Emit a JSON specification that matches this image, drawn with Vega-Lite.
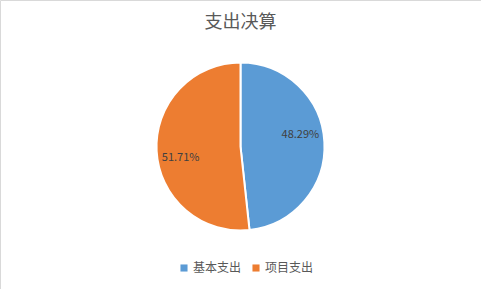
{
  "$schema": "https://vega.github.io/schema/vega-lite/v6.json",
  "width": 481,
  "height": 289,
  "padding": 0,
  "autosize": "none",
  "background": "white",
  "view": {"stroke": "#d9d9d9", "strokeWidth": 1},
  "config": {
    "view": {"stroke": "#d9d9d9", "strokeWidth": 1},
    "font": "Noto Sans CJK SC"
  },
  "title": {
    "text": "支出决算",
    "anchor": "middle",
    "offset": -32,
    "fontSize": 18,
    "fontWeight": "normal",
    "color": "#595959",
    "font": "Noto Sans CJK SC"
  },
  "data": {
    "values": [
      {"category": "基本支出", "value": 48.29, "label": "48.29%", "order": 1},
      {"category": "项目支出", "value": 51.71, "label": "51.71%", "order": 2}
    ]
  },
  "encoding": {
    "theta": {"field": "value", "type": "quantitative", "stack": true},
    "order": {"field": "order", "type": "quantitative"}
  },
  "layer": [
    {
      "mark": {"type": "arc", "radius": 84, "stroke": "white", "strokeWidth": 2, "yOffset": 2},
      "encoding": {
        "color": {
          "field": "category",
          "type": "nominal",
          "scale": {"domain": ["基本支出", "项目支出"], "range": ["#5B9BD5", "#ED7D31"]},
          "legend": {
            "title": null,
            "orient": "none",
            "direction": "horizontal",
            "legendX": 178,
            "legendY": 262,
            "symbolType": "square",
            "symbolSize": 50,
            "symbolStrokeWidth": 0,
            "labelFontSize": 12,
            "labelColor": "#595959",
            "labelFont": "Noto Sans CJK SC",
            "columnPadding": 8,
            "symbolOffset": 0,
            "labelOffset": 3
          }
        }
      }
    },
    {
      "mark": {"type": "text", "radius": 61, "thetaOffset": -0.14, "yOffset": 2, "fontSize": 11, "color": "#404040", "font": "Noto Sans CJK SC"},
      "encoding": {
        "text": {"field": "label", "type": "nominal"}
      }
    }
  ]
}
